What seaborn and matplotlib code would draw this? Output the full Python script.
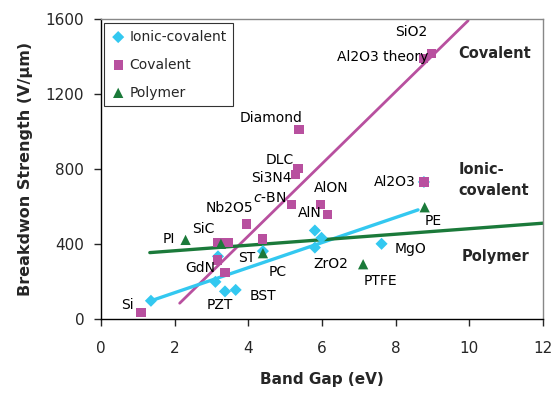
import matplotlib
matplotlib.use("Agg")
import matplotlib.pyplot as plt
import seaborn as sns
import pandas as pd
import numpy as np

# ---- data ----
ionic_x = [1.36, 3.11, 3.37, 3.66, 3.18, 4.40, 5.81, 5.81, 5.99, 7.62, 8.77]
ionic_y = [98, 199, 148, 156, 335, 363, 473, 382, 434, 402, 732]

cov_x = [1.09, 3.17, 3.37, 3.18, 3.45, 3.95, 4.39, 5.17, 5.29, 5.35, 5.38, 5.97, 6.15, 8.77, 8.75, 8.97]
cov_y = [37, 316, 249, 409, 409, 508, 427, 610, 773, 805, 1013, 613, 560, 731, 1392, 1419]

poly_x = [2.30, 3.26, 4.40, 7.12, 8.79]
poly_y = [423, 402, 352, 293, 597]

# trend lines (end points)
cov_line_x = [2.14, 9.97]
cov_line_y = [85, 1593]
ionic_line_x = [1.36, 8.61]
ionic_line_y = [98, 583]
poly_line_x = [1.33, 12.0]
poly_line_y = [355, 512]

series_names = ["Ionic-covalent", "Covalent", "Polymer"]
x_ticks = [0, 2, 4, 6, 8, 10, 12]
y_ticks = [0, 400, 800, 1200, 1600]

point_labels = ["Si", "PZT", "BST", "GdN", "ST", "PC", "ZrO2", "PTFE", "MgO", "PE",
                "PI", "SiC", "Nb2O5", "$c$-BN", "Si3N4", "DLC", "Diamond", "AlON",
                "AlN", "Al2O3", "SiO2", "Al2O3 theory"]
# label placement (layout)
label_pos = [(0.71, 73), (3.23, 76), (4.39, 121), (2.69, 272), (3.95, 325), (4.79, 249),
             (6.24, 293), (7.60, 204), (8.41, 375), (9.02, 524), (1.85, 427), (2.78, 482),
             (3.50, 592), (4.59, 645), (4.63, 752), (4.86, 850), (4.63, 1075), (6.26, 699),
             (5.67, 565), (7.98, 731), (8.43, 1531), (7.66, 1400)]

# ---- style ----
sns.set_style("ticks")
plt.rcParams['font.family'] = ['DejaVu Sans']
plt.rcParams['mathtext.fontset'] = 'dejavusans'

c_ionic = "#33C8F0"
c_cov = "#B8509F"
c_poly = "#1B7A3A"
palette = {"Ionic-covalent": c_ionic, "Covalent": c_cov, "Polymer": c_poly}
markers = {"Ionic-covalent": "D", "Covalent": "s", "Polymer": "^"}

df = pd.DataFrame({
    "x": ionic_x + cov_x + poly_x,
    "y": ionic_y + cov_y + poly_y,
    "type": [series_names[0]] * len(ionic_x) + [series_names[1]] * len(cov_x) + [series_names[2]] * len(poly_x),
})

fig = plt.figure(figsize=(5.54, 3.94), dpi=100)
ax = fig.add_axes([0.182, 0.190, 0.798, 0.761])

# lines
sns.lineplot(x=cov_line_x, y=cov_line_y, color=c_cov, lw=2.0, ax=ax, zorder=2)
sns.lineplot(x=ionic_line_x, y=ionic_line_y, color=c_ionic, lw=2.4, ax=ax, zorder=2)
sns.lineplot(x=poly_line_x, y=poly_line_y, color=c_poly, lw=2.4, ax=ax, zorder=2)

sizes = {"Ionic-covalent": 38, "Covalent": 45, "Polymer": 55}
for name in series_names:
    sub = df[df["type"] == name]
    sns.scatterplot(data=sub, x="x", y="y", color=palette[name], marker=markers[name],
                    s=sizes[name], edgecolor="none", linewidth=0, ax=ax, zorder=3,
                    label=name)

for txt, (lx, ly) in zip(point_labels, label_pos):
    ax.text(lx, ly, txt, ha="center", va="center", fontsize=10, color="black", zorder=4)

ax.text(9.70, 1419, "Covalent", ha="left", va="center", fontsize=10.5, fontweight="bold")
ax.text(9.70, 742, "Ionic-\ncovalent", ha="left", va="center", fontsize=10.5,
        fontweight="bold", linespacing=1.5)
ax.text(9.79, 334, "Polymer", ha="left", va="center", fontsize=10.5, fontweight="bold")

ax.set_xlim(0, 12)
ax.set_ylim(0, 1600)
ax.set_xticks(x_ticks)
ax.set_yticks(y_ticks)
ax.tick_params(axis="both", labelsize=11, length=5, width=1, direction="out")
ax.tick_params(axis="x", pad=11)
ax.tick_params(axis="y", pad=7)
ax.set_xlabel("Band Gap (eV)", fontsize=11, fontweight="bold", labelpad=11)
ax.set_ylabel("Breakdwon Strength (V/\u03bcm)", fontsize=11.5, fontweight="bold", labelpad=9)

for s in ["left", "bottom"]:
    ax.spines[s].set_color("black")
    ax.spines[s].set_linewidth(1.0)
for s in ["top", "right"]:
    ax.spines[s].set_visible(True)
    ax.spines[s].set_color("#888888")
    ax.spines[s].set_linewidth(1.0)

leg = ax.legend(loc="upper left", fontsize=10, frameon=True, fancybox=False,
                edgecolor="black", borderaxespad=0.25, labelspacing=1.0,
                handletextpad=0.3, handlelength=1.0, borderpad=0.5)
leg.get_frame().set_linewidth(0.8)

fig.savefig("out.png", dpi=100)
